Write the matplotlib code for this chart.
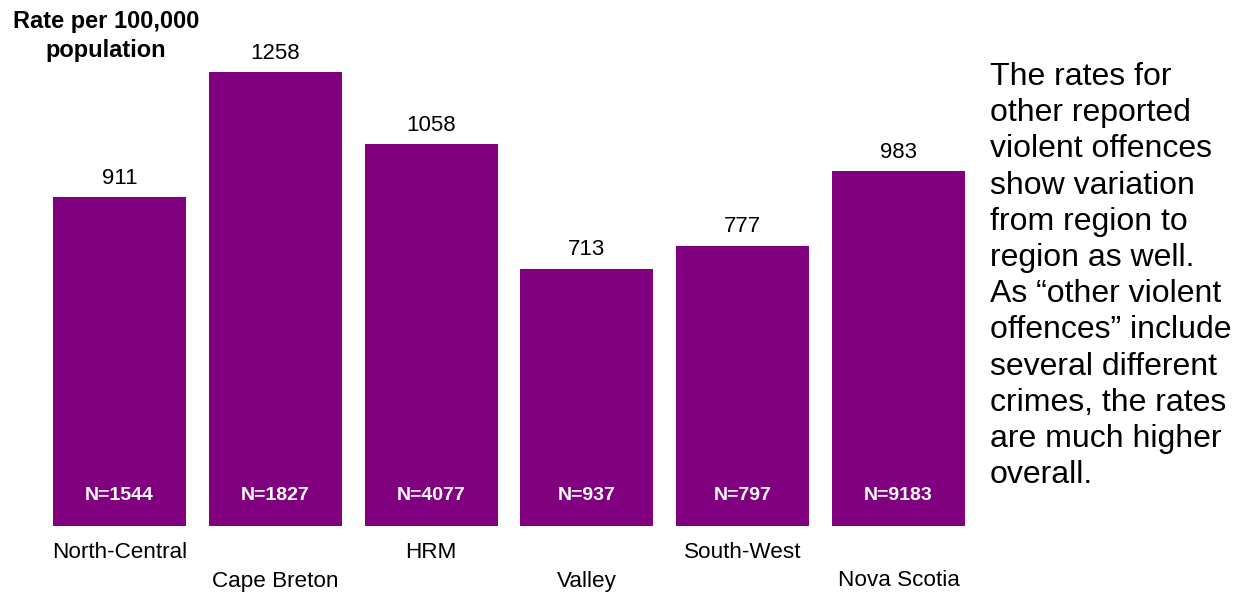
import matplotlib
matplotlib.use("Agg")
import matplotlib.pyplot as plt

plt.rcParams['font.family'] = ['Liberation Sans', 'DejaVu Sans']

regions = ["North-Central", "Cape Breton", "HRM", "Valley", "South-West", "Nova Scotia"]
rates = [911, 1258, 1058, 713, 777, 983]
counts = [1544, 1827, 4077, 937, 797, 9183]

bar_color = "#800080"
PX = 72 / 100  # points per pixel at 100 dpi

fig = plt.figure(figsize=(12.42, 5.94), dpi=100)
ax = fig.add_axes([41.5 / 1242, 1 - 526 / 594, 935 / 1242, 505 / 594])

x = list(range(len(regions)))
ax.bar(x, rates, width=0.854, color=bar_color)

ax.set_xlim(-0.5, len(regions) - 0.5)
ax.set_ylim(0, 1400)
ax.axis("off")

for xi, r, n in zip(x, rates, counts):
    ax.annotate(f"{r}", xy=(xi, r), xytext=(0, 19 * PX), textcoords="offset points",
                ha="center", va="center", fontsize=16, color="black")
    ax.annotate(f"N={n}", xy=(xi, 0), xytext=(0, 30 * PX), textcoords="offset points",
                ha="center", va="center", fontsize=14, fontweight="bold", color="white")

# staggered category labels
for xi, name in zip(x, regions):
    offset = -27 if xi % 2 == 0 else -55
    ax.annotate(name, xy=(xi, 0), xytext=(0, offset * PX), textcoords="offset points",
                ha="center", va="center", fontsize=16.2, color="black")

fig.text(106 / 1242, 1 - 36 / 594, "Rate per 100,000\npopulation", ha="center", va="center",
         fontsize=17, fontweight="bold", linespacing=1.35)

note = ("The rates for\nother reported\nviolent offences\nshow variation\nfrom region to\n"
        "region as well.\nAs \u201cother violent\noffences\u201d include\nseveral different\n"
        "crimes, the rates\nare much higher\noverall.")
fig.text(990 / 1242, 1 - 62 / 594, note, ha="left", va="top", fontsize=23, linespacing=1.27)

fig.savefig("out.png", dpi=100)
